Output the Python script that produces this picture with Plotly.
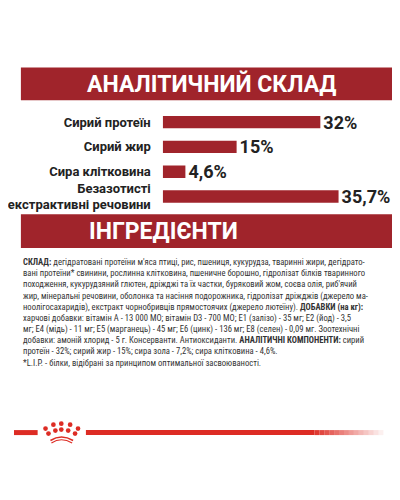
import plotly.graph_objects as go

categories = ["Сирий протеїн", "Сирий жир", "Сира клітковина", "Безазотисті<br>екстрактивні речовини"]
values = [32, 15, 4.6, 35.7]
value_labels = ["32%", "15%", "4,6%", "35,7%"]
title1 = "АНАЛІТИЧНИЙ СКЛАД"
title2 = "ІНГРЕДІЄНТИ"
ingredients_lines = [
    "<b>СКЛАД:</b> дегідратовані протеїни м'яса птиці, рис, пшениця, кукурудза, тваринні жири, дегідрато-",
    "вані протеїни* свинини, рослинна клітковина, пшеничне борошно, гідролізат білків тваринного",
    "походження, кукурудзяний глютен, дріжджі та їх частки, буряковий жом, соєва олія, риб'ячий",
    "жир, мінеральні речовини, оболонка та насіння подорожника, гідролізат дріжджів (джерело ма-",
    "ноолігосахаридів), екстракт чорнобривців прямостоячих (джерело лютеїну). <b>ДОБАВКИ (на кг):</b>",
    "харчові добавки: вітамін А - 13 000 МО; вітамін D3 - 700 МО; Е1 (залізо) - 35 мг; Е2 (йод) - 3,5",
    "мг; Е4 (мідь) - 11 мг; Е5 (марганець) - 45 мг; Е6 (цинк) - 136 мг; Е8 (селен) - 0,09 мг. Зоотехнічні",
    "добавки: амоній хлорид - 5 г. Консерванти. Антиоксиданти. <b>АНАЛІТИЧНІ КОМПОНЕНТИ:</b> сирий",
    "протеїн - 32%; сирий жир - 15%; сира зола - 7,2%; сира клітковина - 4,6%.",
    "*L.I.P. - білки, відібрані за принципом оптимальної засвоюваності.",
]

RED = "#a0242b"
fig = go.Figure()
fig.add_trace(go.Bar(
    x=values, y=categories, orientation="h", xaxis="x2", yaxis="y2",
    marker=dict(color=RED, line=dict(width=0)),
    text=value_labels, textposition="outside", cliponaxis=False, constraintext="none",
    textfont=dict(family="Roboto", size=18, color="#222"),
    texttemplate="<b>%{text}</b>", hoverinfo="skip",
))

shapes = [
    dict(type="rect", xref="x", yref="y", x0=7, x1=392, y0=60, y1=93, fillcolor=RED, line_width=0, layer="below"),
    dict(type="rect", xref="x", yref="y", x0=7, x1=392, y0=208, y1=242, fillcolor=RED, line_width=0, layer="below"),
    dict(type="line", xref="x", yref="y", x0=0, x1=24, y0=428, y1=428, line=dict(color="#dd2c24", width=5)),
    dict(type="line", xref="x", yref="y", x0=73, x1=305, y0=428, y1=428, line=dict(color="#dd2c24", width=5)),
]
n = 14
for i in range(n):
    shapes.append(dict(type="line", xref="x", yref="y", x0=305 + i * 5, x1=310 + i * 5, y0=428, y1=428,
                       line=dict(color="#dd2c24", width=5), opacity=1 - (i + 1) / (n + 1)))
for (cx, cy) in [(32, 424), (40, 420), (48, 419), (57, 420), (65, 424), (35, 429), (42, 426), (48, 425), (55, 426), (62, 429)]:
    shapes.append(dict(type="circle", xref="x", yref="y", x0=cx - 2.4, x1=cx + 2.4, y0=cy - 2.4, y1=cy + 2.4,
                       fillcolor="#dd2c24", line_width=0))
shapes.append(dict(type="path", xref="x", yref="y", path="M 37 436 Q 48 429 60 436", line=dict(color="#dd2c24", width=1.6)))
shapes.append(dict(type="path", xref="x", yref="y", path="M 38 438.5 Q 48 432 59 438.5", line=dict(color="#dd2c24", width=1.2)))

annotations = [
    dict(x=200, y=77, xref="x", yref="y", text="<b>" + title1 + "</b>", showarrow=False,
         font=dict(family="Roboto", size=23, color="white")),
    dict(x=74, y=225, xref="x", yref="y", text="<b>" + title2 + "</b>", showarrow=False, xanchor="left",
         font=dict(family="Roboto", size=23, color="white")),
    dict(x=7, y=249, xref="x", yref="y", text="<br>".join(ingredients_lines), showarrow=False,
         xanchor="left", yanchor="top", align="left",
         font=dict(family="Roboto Condensed, Roboto", size=8.6, color="#333")),
]

fig.update_layout(
    width=400, height=500, margin=dict(l=0, r=0, t=0, b=0),
    paper_bgcolor="white", plot_bgcolor="rgba(0,0,0,0)", showlegend=False,
    bargap=0.5,
    xaxis=dict(range=[0, 400], visible=False, domain=[0, 1]),
    yaxis=dict(range=[500, 0], visible=False, domain=[0, 1]),
    xaxis2=dict(range=[0, 249 / 5], domain=[151 / 400, 1], anchor="y2", visible=False),
    yaxis2=dict(domain=[1 - 202.5 / 500, 1 - 102.5 / 500], anchor="x2", autorange="reversed",
                showgrid=False, zeroline=False, showline=False, ticks="", ticklabelstandoff=11,
                tickfont=dict(family="Roboto", size=13, color="#222"),
                tickvals=categories, ticktext=["<b>" + c + "</b>" for c in categories]),
    shapes=shapes, annotations=annotations,
)
fig.write_html("out.html")
